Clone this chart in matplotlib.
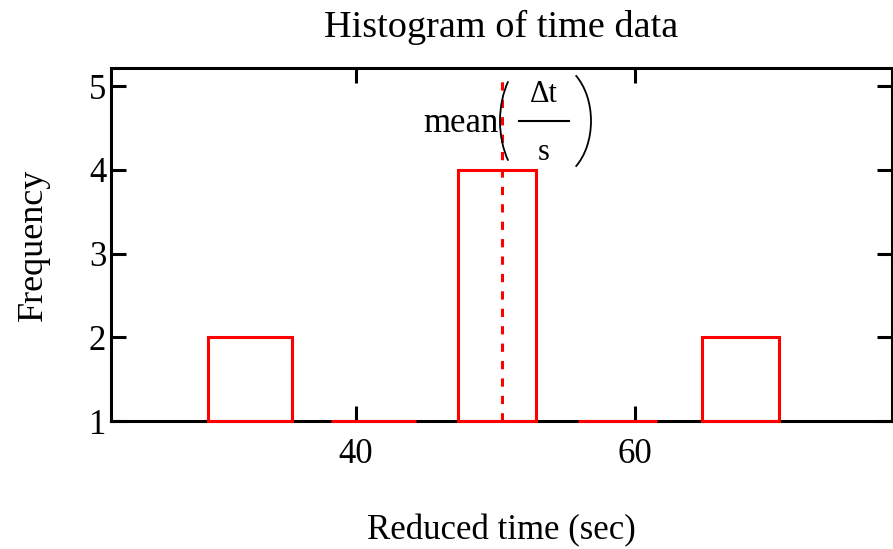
import matplotlib
matplotlib.use("Agg")
import matplotlib.pyplot as plt
from matplotlib.patches import Arc
from matplotlib.lines import Line2D
from matplotlib.transforms import IdentityTransform

plt.rcParams["font.family"] = ["Liberation Serif", "DejaVu Serif"]

# histogram of reduced time data (bin edges)
bin_left = [29.39, 38.21, 47.31, 55.89, 64.80]
bin_right = [35.39, 44.28, 52.88, 61.56, 70.32]
counts = [2, 1, 4, 1, 2]
mean_time = 50.49

x_ticks = [40, 60]
y_ticks = [1, 2, 3, 4, 5]

W, H = 893, 549
fig = plt.figure(figsize=(W / 100, H / 100), dpi=100)
ax = fig.add_axes([111 / W, 1 - 421 / H, 781 / W, 353 / H])

widths = [r - l for l, r in zip(bin_left, bin_right)]
heights = [c - 1 for c in counts]
ax.bar(bin_left, heights, width=widths, bottom=1, align="edge", fill=False,
       edgecolor="#ff0000", linewidth=2.2, zorder=3, clip_on=False)
ax.plot([mean_time, mean_time], [1, 5.08], color="#ff0000", linewidth=2.2,
        linestyle=(0, (2.7, 3.0)), zorder=3, clip_on=False)

ax.set_xlim(22.44, 78.42)
ax.set_ylim(1, 5.215)
ax.set_xticks(x_ticks)
ax.set_yticks(y_ticks)
ax.tick_params(direction="in", length=11, width=2.2, labelsize=25,
               top=True, right=True)
ax.tick_params(axis="x", pad=12)
ax.tick_params(axis="y", pad=3.5)
for s in ax.spines.values():
    s.set_linewidth(2.2)

ax.set_title("Histogram of time data", fontsize=27.5, pad=22.5)
ax.set_xlabel("Reduced time (sec)", fontsize=25, labelpad=31)
ax.set_ylabel("Frequency", fontsize=26, labelpad=28)


# "mean(Δt / s)" label, placed in pixel coordinates (top-left origin)
def px(x, y):
    return x, H - y


ident = IdentityTransform()
fig.text(*px(498, 123), "mean", transform=ident, ha="right", va="center",
         fontsize=25)
fig.text(*px(544, 95), "\u0394t", transform=ident, ha="center", va="center",
         fontsize=22)
fig.text(*px(544, 152), "s", transform=ident, ha="center", va="center",
         fontsize=22)
fig.add_artist(Line2D([519, 569], [H - 121, H - 121], transform=ident,
                      color="black", linewidth=1.5))
fig.add_artist(Arc(px(540, 121), 80, 130.6, theta1=128.7, theta2=231.3,
                   transform=ident, color="black", linewidth=1.3))
fig.add_artist(Arc(px(551, 121), 80, 116, theta1=-61.6, theta2=61.6,
                   transform=ident, color="black", linewidth=1.3))

fig.savefig("out.png", dpi=100)
